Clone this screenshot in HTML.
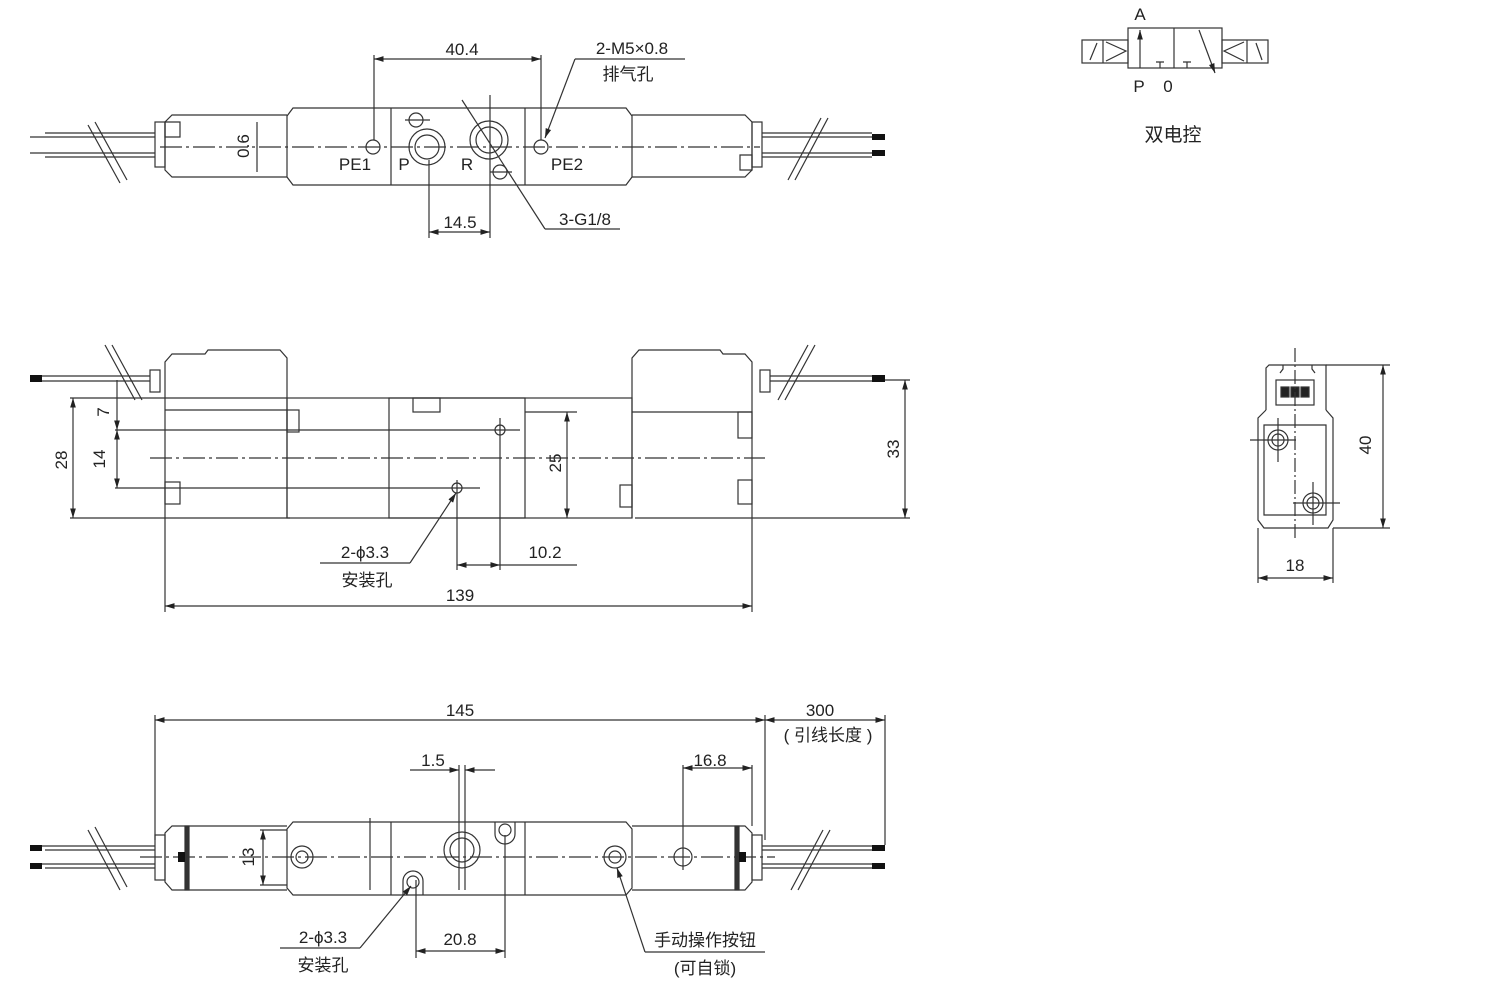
<!DOCTYPE html>
<html><head><meta charset="utf-8"><style>
html,body{margin:0;padding:0;background:#fff;}
svg{display:block;}
text{font-family:"Liberation Sans","Noto Sans CJK SC",sans-serif;fill:#222;font-size:17px;}
</style></head><body>
<svg width="1494" height="1003" viewBox="0 0 1494 1003" xmlns="http://www.w3.org/2000/svg">
<defs>
<marker id="a" viewBox="0 0 10 10" refX="10" refY="5" markerWidth="8" markerHeight="8" orient="auto-start-reverse"><path d="M0,2 L10,5 L0,8z" fill="#222"/></marker>
</defs>
<g stroke="#333" stroke-width="1.2" fill="none">
<!-- ===== TOP VIEW ===== -->
<path d="M287,116 L293,108 L626,108 L632,116 L632,177 L626,185 L293,185 L287,177 Z"/>
<path d="M287,115 L172,115 L165,122 L165,170 L172,177 L287,177"/>
<path d="M632,115 L745,115 L752,122 L752,170 L745,177 L632,177"/>
<line x1="391" y1="108" x2="391" y2="185"/><line x1="525" y1="108" x2="525" y2="185"/>
<line x1="160" y1="147" x2="760" y2="147" stroke-dasharray="22,4,3,4"/>
<rect x="155" y="122" width="10" height="45"/><rect x="752" y="122" width="10" height="45"/>
<path d="M165,122 h15 v15 h-15z M740,155 h12 v15 h-12z"/>
<line x1="30" y1="137" x2="155" y2="137"/><line x1="45" y1="133" x2="155" y2="133"/>
<line x1="30" y1="153" x2="155" y2="153"/><line x1="45" y1="157" x2="155" y2="157"/>
<line x1="762" y1="137" x2="885" y2="137"/><line x1="762" y1="133" x2="872" y2="133"/>
<line x1="762" y1="153" x2="885" y2="153"/><line x1="762" y1="157" x2="872" y2="157"/>
<line x1="88" y1="125" x2="120" y2="183"/><line x1="95" y1="122" x2="127" y2="180"/>
<line x1="828" y1="118" x2="795" y2="180"/><line x1="821" y1="118" x2="788" y2="180"/>
<circle cx="373" cy="147" r="7"/><circle cx="427" cy="147" r="18"/><circle cx="427" cy="147" r="12"/>
<circle cx="489" cy="140" r="19"/><circle cx="489" cy="140" r="13"/>
<circle cx="416" cy="120" r="7"/><circle cx="500" cy="172" r="7"/><circle cx="541" cy="147" r="7"/>
<line x1="405" y1="120" x2="430" y2="120"/><line x1="490" y1="172" x2="512" y2="172"/>
<line x1="374" y1="55" x2="374" y2="140"/><line x1="541" y1="55" x2="541" y2="140"/>
<line x1="374" y1="59" x2="541" y2="59" marker-start="url(#a)" marker-end="url(#a)"/>
<line x1="575" y1="59" x2="685" y2="59"/><line x1="575" y1="59" x2="545" y2="138" marker-end="url(#a)"/>
<line x1="429" y1="160" x2="429" y2="238"/><line x1="490" y1="95" x2="490" y2="238"/>
<line x1="429" y1="232" x2="490" y2="232" marker-start="url(#a)" marker-end="url(#a)"/>
<line x1="545" y1="229" x2="620" y2="229"/><line x1="545" y1="229" x2="462" y2="100"/>
<line x1="257" y1="122" x2="257" y2="172"/>
<!-- ===== MIDDLE VIEW ===== -->
<path d="M165,518 L165,362 L172,354 L205,354 L208,350 L280,350 L287,358 L287,518"/>
<path d="M632,518 L632,358 L639,350 L720,350 L723,354 L745,354 L752,362 L752,518"/>
<rect x="287" y="398" width="345" height="120"/>
<rect x="389" y="398" width="136" height="120"/><rect x="413" y="398" width="27" height="14"/>
<line x1="165" y1="410" x2="287" y2="410"/><line x1="632" y1="412" x2="752" y2="412"/>
<line x1="150" y1="458" x2="765" y2="458" stroke-dasharray="22,4,3,4"/>
<rect x="150" y="370" width="10" height="22"/><rect x="760" y="370" width="10" height="22"/>
<rect x="165" y="482" width="15" height="22"/><rect x="287" y="410" width="12" height="22"/>
<rect x="738" y="412" width="14" height="26"/><rect x="738" y="480" width="14" height="24"/><rect x="620" y="485" width="12" height="22"/>
<line x1="30" y1="376" x2="150" y2="376"/><line x1="30" y1="381" x2="150" y2="381"/>
<line x1="770" y1="376" x2="885" y2="376"/><line x1="770" y1="381" x2="885" y2="381"/>
<line x1="105" y1="345" x2="135" y2="400"/><line x1="112" y1="345" x2="142" y2="400"/>
<line x1="815" y1="345" x2="785" y2="400"/><line x1="808" y1="345" x2="778" y2="400"/>
<circle cx="500" cy="430" r="5"/><circle cx="457" cy="488" r="5"/>
<line x1="70" y1="398" x2="287" y2="398"/><line x1="70" y1="518" x2="290" y2="518"/>
<line x1="635" y1="518" x2="910" y2="518"/><line x1="880" y1="380" x2="910" y2="380"/>
<line x1="73" y1="398" x2="73" y2="518" marker-start="url(#a)" marker-end="url(#a)"/>
<line x1="117" y1="380" x2="117" y2="430" marker-end="url(#a)"/>
<line x1="117" y1="430" x2="117" y2="488" marker-start="url(#a)" marker-end="url(#a)"/>
<line x1="115" y1="430" x2="520" y2="430"/><line x1="115" y1="488" x2="480" y2="488"/>
<line x1="525" y1="412" x2="577" y2="412"/>
<line x1="567" y1="412" x2="567" y2="518" marker-start="url(#a)" marker-end="url(#a)"/>
<line x1="905" y1="380" x2="905" y2="518" marker-start="url(#a)" marker-end="url(#a)"/>
<line x1="457" y1="480" x2="457" y2="570"/><line x1="500" y1="418" x2="500" y2="570"/>
<line x1="457" y1="565" x2="500" y2="565" marker-start="url(#a)" marker-end="url(#a)"/>
<line x1="500" y1="565" x2="577" y2="565"/>
<line x1="320" y1="563" x2="410" y2="563"/><line x1="410" y1="563" x2="456" y2="493" marker-end="url(#a)"/>
<line x1="165" y1="518" x2="165" y2="612"/><line x1="752" y1="518" x2="752" y2="612"/>
<line x1="165" y1="606" x2="752" y2="606" marker-start="url(#a)" marker-end="url(#a)"/>
<!-- ===== BOTTOM VIEW ===== -->
<path d="M287,829 L293,822 L626,822 L632,829 L632,888 L626,895 L293,895 L287,888 Z"/>
<path d="M287,826 L172,826 L165,833 L165,882 L172,890 L287,890"/>
<path d="M632,826 L745,826 L752,833 L752,882 L745,890 L632,890"/>
<line x1="391" y1="822" x2="391" y2="895"/><line x1="525" y1="822" x2="525" y2="895"/>
<rect x="185" y="826" width="4" height="64" fill="#333"/><rect x="735" y="826" width="4" height="64" fill="#333"/>
<rect x="155" y="835" width="10" height="45"/><rect x="752" y="835" width="10" height="45"/>
<line x1="140" y1="857" x2="775" y2="857" stroke-dasharray="22,4,3,4"/>
<line x1="30" y1="846" x2="155" y2="846"/><line x1="45" y1="850" x2="155" y2="850"/>
<line x1="30" y1="864" x2="155" y2="864"/><line x1="45" y1="868" x2="155" y2="868"/>
<line x1="762" y1="846" x2="885" y2="846"/><line x1="762" y1="850" x2="872" y2="850"/>
<line x1="762" y1="864" x2="885" y2="864"/><line x1="762" y1="868" x2="872" y2="868"/>
<line x1="88" y1="830" x2="120" y2="890"/><line x1="95" y1="827" x2="127" y2="887"/>
<line x1="830" y1="830" x2="798" y2="890"/><line x1="823" y1="830" x2="791" y2="890"/>
<circle cx="302" cy="857" r="11"/><circle cx="302" cy="857" r="6"/>
<circle cx="462" cy="850" r="18"/><circle cx="462" cy="850" r="12"/>
<path d="M495,822 v12 a10,10 0 0 0 20,0 v-12"/><circle cx="505" cy="830" r="6"/>
<path d="M403,895 v-14 a10,10 0 0 1 20,0 v14"/><circle cx="413" cy="882" r="6"/>
<circle cx="615" cy="857" r="11"/><circle cx="615" cy="857" r="6"/>
<circle cx="683" cy="857" r="9"/>
<line x1="260" y1="830" x2="287" y2="830"/><line x1="260" y1="885" x2="287" y2="885"/>
<line x1="263" y1="830" x2="263" y2="885" marker-start="url(#a)" marker-end="url(#a)"/>
<line x1="370" y1="818" x2="370" y2="890"/>
<line x1="155" y1="715" x2="155" y2="840"/><line x1="765" y1="715" x2="765" y2="840"/><line x1="885" y1="715" x2="885" y2="845"/>
<line x1="155" y1="720" x2="765" y2="720" marker-start="url(#a)" marker-end="url(#a)"/>
<line x1="765" y1="720" x2="885" y2="720" marker-start="url(#a)" marker-end="url(#a)"/>
<line x1="459" y1="765" x2="459" y2="890"/><line x1="465" y1="765" x2="465" y2="890"/>
<line x1="410" y1="770" x2="459" y2="770" marker-end="url(#a)"/><line x1="495" y1="770" x2="465" y2="770" marker-end="url(#a)"/>
<line x1="683" y1="765" x2="683" y2="870"/><line x1="752" y1="765" x2="752" y2="826"/>
<line x1="683" y1="768" x2="752" y2="768" marker-start="url(#a)" marker-end="url(#a)"/>
<line x1="416" y1="880" x2="416" y2="958"/><line x1="505" y1="835" x2="505" y2="958"/>
<line x1="416" y1="951" x2="505" y2="951" marker-start="url(#a)" marker-end="url(#a)"/>
<line x1="280" y1="948" x2="360" y2="948"/><line x1="360" y1="948" x2="411" y2="886" marker-end="url(#a)"/>
<line x1="645" y1="952" x2="765" y2="952"/><line x1="645" y1="952" x2="617" y2="868" marker-end="url(#a)"/>
<!-- ===== SYMBOL ===== -->
<rect x="1128" y="28" width="94" height="40"/><line x1="1174" y1="28" x2="1174" y2="68"/>
<rect x="1082" y="40" width="46" height="23"/><line x1="1103" y1="40" x2="1103" y2="63"/>
<line x1="1090" y1="60" x2="1097" y2="43"/><path d="M1106,42 L1126,51 L1106,61"/>
<rect x="1222" y="40" width="46" height="23"/><line x1="1247" y1="40" x2="1247" y2="63"/>
<line x1="1256" y1="43" x2="1262" y2="60"/><path d="M1244,42 L1224,51 L1244,61"/>
<line x1="1140" y1="68" x2="1140" y2="30" marker-end="url(#a)"/>
<line x1="1199" y1="30" x2="1215" y2="73" marker-end="url(#a)"/>
<path d="M1160,68 v-6 M1156,62 h8 M1187,68 v-6 M1183,62 h8"/>
<!-- ===== END VIEW ===== -->
<path d="M1266,410 L1266,368 L1269,365 L1326,365 L1326,410"/>
<path d="M1283,365 v4 l-3,4 M1312,365 v4 l3,4"/>
<rect x="1276" y="380" width="38" height="25"/>
<rect x="1281" y="387" width="8" height="10" fill="#222"/><rect x="1291" y="387" width="8" height="10" fill="#222"/><rect x="1301" y="387" width="8" height="10" fill="#222"/>
<path d="M1266,410 L1262,414 L1258,418 L1258,520 L1264,528 L1328,528 L1333,520 L1333,418 L1326,410"/>
<path d="M1264,425 L1326,425 L1326,515 L1264,515 Z"/>
<circle cx="1278" cy="440" r="10"/><circle cx="1278" cy="440" r="6"/>
<circle cx="1313" cy="503" r="10"/><circle cx="1313" cy="503" r="6"/>
<line x1="1295" y1="348" x2="1295" y2="540" stroke-dasharray="14,3,2,3"/>
<line x1="1250" y1="440" x2="1296" y2="440"/><line x1="1278" y1="418" x2="1278" y2="462"/>
<line x1="1293" y1="503" x2="1340" y2="503"/><line x1="1313" y1="482" x2="1313" y2="525"/>
<line x1="1326" y1="365" x2="1390" y2="365"/><line x1="1333" y1="528" x2="1390" y2="528"/>
<line x1="1383" y1="365" x2="1383" y2="528" marker-start="url(#a)" marker-end="url(#a)"/>
<line x1="1258" y1="528" x2="1258" y2="583"/><line x1="1333" y1="528" x2="1333" y2="583"/>
<line x1="1258" y1="578" x2="1333" y2="578" marker-start="url(#a)" marker-end="url(#a)"/>
</g>
<g fill="#111">
<rect x="872" y="134" width="13" height="6"/><rect x="872" y="150" width="13" height="6"/>
<rect x="30" y="375" width="12" height="7"/><rect x="872" y="375" width="13" height="7"/>
<rect x="30" y="845" width="12" height="6"/><rect x="30" y="863" width="12" height="6"/>
<rect x="872" y="845" width="13" height="6"/><rect x="872" y="863" width="13" height="6"/>
<rect x="178" y="852" width="7" height="10"/><rect x="739" y="852" width="7" height="10"/>
</g>
<text x="462" y="55" text-anchor="middle">40.4</text>
<text x="632" y="54" text-anchor="middle">2-M5×0.8</text>
<text x="628" y="80" text-anchor="middle">排气孔</text>
<text x="355" y="170" text-anchor="middle">PE1</text>
<text x="404" y="170" text-anchor="middle">P</text>
<text x="467" y="170" text-anchor="middle">R</text>
<text x="567" y="170" text-anchor="middle">PE2</text>
<text x="460" y="228" text-anchor="middle">14.5</text>
<text x="585" y="225" text-anchor="middle">3-G1/8</text>
<text transform="translate(249,146) rotate(-90)" text-anchor="middle">0.6</text>
<text transform="translate(67,460) rotate(-90)" text-anchor="middle">28</text>
<text transform="translate(109,412) rotate(-90)" text-anchor="middle">7</text>
<text transform="translate(105,459) rotate(-90)" text-anchor="middle">14</text>
<text transform="translate(561,463) rotate(-90)" text-anchor="middle">25</text>
<text transform="translate(899,449) rotate(-90)" text-anchor="middle">33</text>
<text x="545" y="558" text-anchor="middle">10.2</text>
<text x="365" y="558" text-anchor="middle">2-ϕ3.3</text>
<text x="367" y="586" text-anchor="middle">安装孔</text>
<text x="460" y="601" text-anchor="middle">139</text>
<text x="460" y="716" text-anchor="middle">145</text>
<text x="820" y="716" text-anchor="middle">300</text>
<text x="828" y="741" text-anchor="middle">( 引线长度 )</text>
<text x="433" y="766" text-anchor="middle">1.5</text>
<text x="710" y="766" text-anchor="middle">16.8</text>
<text transform="translate(254,857) rotate(-90)" text-anchor="middle">13</text>
<text x="460" y="945" text-anchor="middle">20.8</text>
<text x="323" y="943" text-anchor="middle">2-ϕ3.3</text>
<text x="323" y="971" text-anchor="middle">安装孔</text>
<text x="705" y="946" text-anchor="middle">手动操作按钮</text>
<text x="705" y="974" text-anchor="middle">(可自锁)</text>
<text x="1140" y="20" text-anchor="middle">A</text>
<text x="1139" y="92" text-anchor="middle">P</text>
<text x="1168" y="92" text-anchor="middle">0</text>
<text x="1173" y="141" text-anchor="middle" style="font-size:19px">双电控</text>
<text transform="translate(1371,445) rotate(-90)" text-anchor="middle">40</text>
<text x="1295" y="571" text-anchor="middle">18</text>
</svg>
</body></html>
